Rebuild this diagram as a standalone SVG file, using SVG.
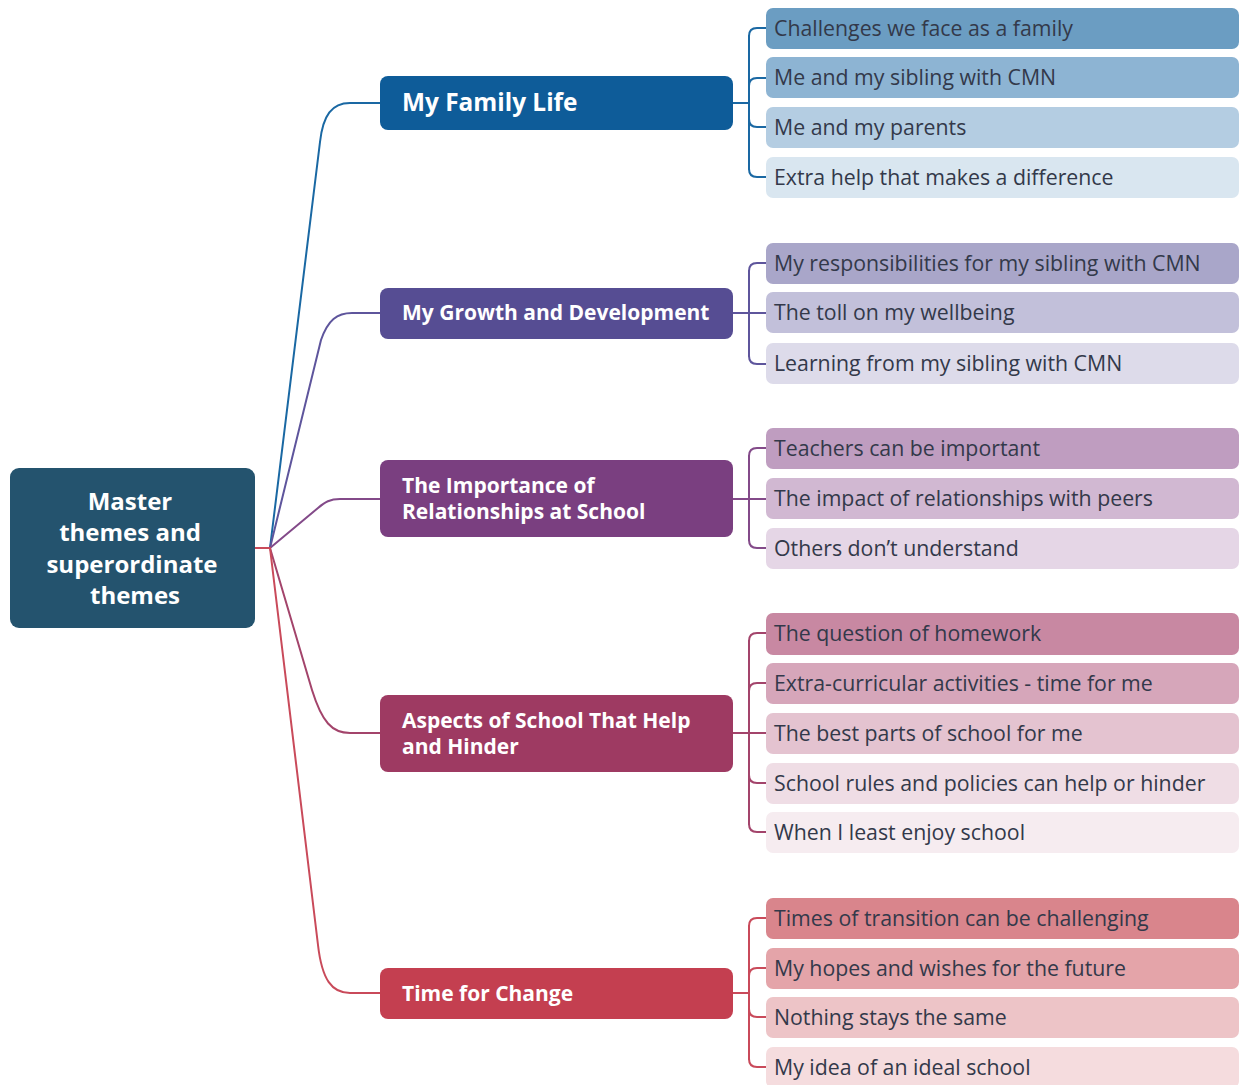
<svg xmlns="http://www.w3.org/2000/svg" width="1239" height="1085" viewBox="0 0 1239 1085">
<style>
.sub{font-family:"Open Sans",Lato,"Liberation Sans",sans-serif;font-size:21.3px;fill:#33394a}
.th{font-family:"Open Sans",Lato,"Liberation Sans",sans-serif;font-weight:bold;font-size:21px;fill:#ffffff}
.ms{font-family:"Open Sans",Lato,"Liberation Sans",sans-serif;font-weight:bold;font-size:24px;fill:#ffffff;text-anchor:middle}
.c{fill:none;stroke-width:2;stroke-linecap:round;stroke-linejoin:round}
</style>
<rect width="1239" height="1085" fill="#ffffff"/>
<g id="connectors">
  <path class="c" stroke="#1a68a3" d="M270,548 L320,142 C323,115 332,103 350,103 L380,103"/>
  <path class="c" stroke="#5e559c" d="M270,548 L321,340 C328,320 337,313 352,313 L380,313"/>
  <path class="c" stroke="#834a89" d="M270,548 L318,508 C325,502 330,499 340,499 L380,499"/>
  <path class="c" stroke="#a3446b" d="M270,548 L312,690 C322,722 332,733 350,733 L380,733"/>
  <path class="c" stroke="#c94a5a" d="M270,548 L318,945 C322,980 332,993 350,993 L380,993"/>
  <path class="c" stroke="#c94a5a" stroke-width="3" d="M255,548 L270,548"/>
  <g stroke="#1a68a3" class="c">
    <path d="M733,103 L749,103"/>
    <path d="M749,36 L749,169"/>
    <path d="M749,36 Q749,28 757,28 L767,28"/>
    <path d="M749,86 Q749,78 757,78 L767,78"/>
    <path d="M749,119 Q749,127 757,127 L767,127"/>
    <path d="M749,169 Q749,177 757,177 L767,177"/>
  </g>
  <g stroke="#5e559c" class="c">
    <path d="M733,313 L767,313"/>
    <path d="M749,271 L749,356"/>
    <path d="M749,271 Q749,263 757,263 L767,263"/>
    <path d="M749,356 Q749,364 757,364 L767,364"/>
  </g>
  <g stroke="#834a89" class="c">
    <path d="M733,499 L767,499"/>
    <path d="M749,456 L749,540"/>
    <path d="M749,456 Q749,448 757,448 L767,448"/>
    <path d="M749,540 Q749,548 757,548 L767,548"/>
  </g>
  <g stroke="#a3446b" class="c">
    <path d="M733,733 L767,733"/>
    <path d="M749,641 L749,824"/>
    <path d="M749,641 Q749,633 757,633 L767,633"/>
    <path d="M749,691 Q749,683 757,683 L767,683"/>
    <path d="M749,775 Q749,783 757,783 L767,783"/>
    <path d="M749,824 Q749,832 757,832 L767,832"/>
  </g>
  <g stroke="#c94a5a" class="c">
    <path d="M733,993 L749,993"/>
    <path d="M749,926 L749,1059"/>
    <path d="M749,926 Q749,918 757,918 L767,918"/>
    <path d="M749,976 Q749,968 757,968 L767,968"/>
    <path d="M749,1009 Q749,1017 757,1017 L767,1017"/>
    <path d="M749,1059 Q749,1067 757,1067 L767,1067"/>
  </g>
</g>
<g id="master">
  <rect x="10" y="468" width="245" height="160" rx="9" fill="#24536e"/>
  <text class="ms" x="130" y="510">Master</text>
  <text class="ms" x="130" y="541">themes and</text>
  <text class="ms" x="132" y="573">superordinate</text>
  <text class="ms" x="135" y="604">themes</text>
</g>
<g id="theme-family">
  <rect x="380" y="76" width="353" height="54" rx="8" fill="#0e5c99"/>
  <text class="th" x="402" y="111" style="font-size:24.4px">My Family Life</text>
</g>
<g id="theme-growth">
  <rect x="380" y="288" width="353" height="51" rx="8" fill="#564d93"/>
  <text class="th" x="402" y="320">My Growth and Development</text>
</g>
<g id="theme-relationships">
  <rect x="380" y="460" width="353" height="77" rx="8" fill="#7a3f80"/>
  <text class="th" x="402" y="493">The Importance of</text>
  <text class="th" x="402" y="519">Relationships at School</text>
</g>
<g id="theme-aspects">
  <rect x="380" y="695" width="353" height="77" rx="8" fill="#9e3a62"/>
  <text class="th" x="402" y="728">Aspects of School That Help</text>
  <text class="th" x="402" y="754">and Hinder</text>
</g>
<g id="theme-change">
  <rect x="380" y="968" width="353" height="51" rx="8" fill="#c43f50"/>
  <text class="th" x="402" y="1001">Time for Change</text>
</g>
<g id="sub-family-1"><rect x="766" y="8" width="473" height="41" rx="7" fill="#6b9dc2"/><text class="sub" x="774" y="36">Challenges we face as a family</text></g>
<g id="sub-family-2"><rect x="766" y="57" width="473" height="41" rx="7" fill="#8db4d3"/><text class="sub" x="774" y="85">Me and my sibling with CMN</text></g>
<g id="sub-family-3"><rect x="766" y="107" width="473" height="41" rx="7" fill="#b4cde2"/><text class="sub" x="774" y="135">Me and my parents</text></g>
<g id="sub-family-4"><rect x="766" y="157" width="473" height="41" rx="7" fill="#d9e6f0"/><text class="sub" x="774" y="185">Extra help that makes a difference</text></g>
<g id="sub-growth-1"><rect x="766" y="243" width="473" height="41" rx="7" fill="#a9a6c9"/><text class="sub" x="774" y="271">My responsibilities for my sibling with CMN</text></g>
<g id="sub-growth-2"><rect x="766" y="292" width="473" height="41" rx="7" fill="#c2c0da"/><text class="sub" x="774" y="320">The toll on my wellbeing</text></g>
<g id="sub-growth-3"><rect x="766" y="343" width="473" height="41" rx="7" fill="#dddbea"/><text class="sub" x="774" y="371">Learning from my sibling with CMN</text></g>
<g id="sub-rel-1"><rect x="766" y="428" width="473" height="41" rx="7" fill="#bf9dc0"/><text class="sub" x="774" y="456">Teachers can be important</text></g>
<g id="sub-rel-2"><rect x="766" y="478" width="473" height="41" rx="7" fill="#d1b8d2"/><text class="sub" x="774" y="506">The impact of relationships with peers</text></g>
<g id="sub-rel-3"><rect x="766" y="528" width="473" height="41" rx="7" fill="#e5d6e6"/><text class="sub" x="774" y="556">Others don’t understand</text></g>
<g id="sub-asp-1"><rect x="766" y="613" width="473" height="42" rx="7" fill="#c888a2"/><text class="sub" x="774" y="641">The question of homework</text></g>
<g id="sub-asp-2"><rect x="766" y="663" width="473" height="41" rx="7" fill="#d6a6ba"/><text class="sub" x="774" y="691">Extra-curricular activities - time for me</text></g>
<g id="sub-asp-3"><rect x="766" y="713" width="473" height="41" rx="7" fill="#e4c3d0"/><text class="sub" x="774" y="741">The best parts of school for me</text></g>
<g id="sub-asp-4"><rect x="766" y="763" width="473" height="41" rx="7" fill="#efdde5"/><text class="sub" x="774" y="791">School rules and policies can help or hinder</text></g>
<g id="sub-asp-5"><rect x="766" y="812" width="473" height="41" rx="7" fill="#f6ecf0"/><text class="sub" x="774" y="840">When I least enjoy school</text></g>
<g id="sub-time-1"><rect x="766" y="898" width="473" height="41" rx="7" fill="#d9858c"/><text class="sub" x="774" y="926">Times of transition can be challenging</text></g>
<g id="sub-time-2"><rect x="766" y="948" width="473" height="41" rx="7" fill="#e4a4a9"/><text class="sub" x="774" y="976">My hopes and wishes for the future</text></g>
<g id="sub-time-3"><rect x="766" y="997" width="473" height="41" rx="7" fill="#edc4c7"/><text class="sub" x="774" y="1025">Nothing stays the same</text></g>
<g id="sub-time-4"><rect x="766" y="1047" width="473" height="41" rx="7" fill="#f5dcde"/><text class="sub" x="774" y="1075">My idea of an ideal school</text></g>
</svg>
